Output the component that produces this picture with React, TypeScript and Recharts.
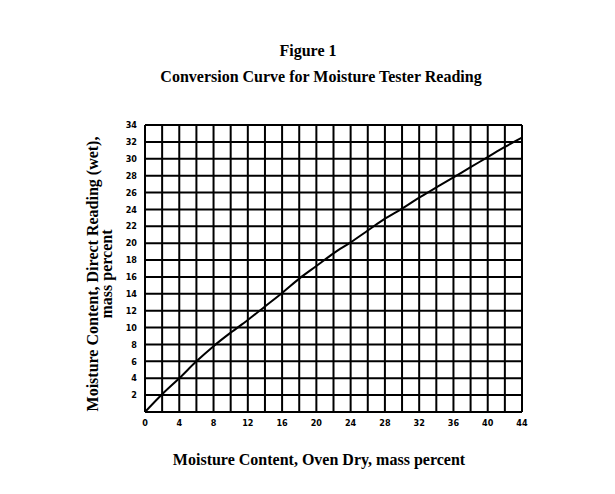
import React from "react";
import { LineChart, Line, XAxis, YAxis, CartesianGrid } from "recharts";

// oven-dry moisture (x) vs direct reading (y)
const ovenDry = [0, 2, 4, 6, 8, 10, 12, 14, 16, 18, 20, 22, 24, 26, 28, 30, 32, 34, 36, 38, 40, 42, 44];
const directReading = [
  0, 2.1, 4.0, 6.0, 7.8, 9.4, 10.9, 12.5, 14.1, 15.8, 17.3, 18.8, 20.1, 21.5,
  22.9, 24.1, 25.4, 26.6, 27.8, 29.0, 30.2, 31.4, 32.5,
];

// grid lines every 2 units, labels every 4 on x
const xTicks = [0, 2, 4, 6, 8, 10, 12, 14, 16, 18, 20, 22, 24, 26, 28, 30, 32, 34, 36, 38, 40, 42, 44];
const yTicks = [0, 2, 4, 6, 8, 10, 12, 14, 16, 18, 20, 22, 24, 26, 28, 30, 32, 34];

const chartData = ovenDry.map((x, i) => ({ x, y: directReading[i] }));

const tickStyle = {
  fontFamily: "DejaVu Sans Condensed, DejaVu Sans",
  fontWeight: "bold" as const,
  fontSize: 9,
  fill: "#000",
};

const serif = "Liberation Serif, Times New Roman, serif";

function App() {
  return (
    <div style={{ position: "absolute", left: 0, top: 0, width: 615, height: 494, background: "#fff" }}>
      <LineChart
        width={615}
        height={494}
        data={chartData}
        margin={{ top: 125, right: 93, bottom: 62, left: 125 }}
      >
        <CartesianGrid stroke="#000" strokeWidth={2} strokeOpacity={1} />
        <XAxis
          type="number"
          dataKey="x"
          domain={[0, 44]}
          ticks={xTicks}
          interval={0}
          height={20}
          tickFormatter={(v: number) => (v % 4 === 0 ? String(v) : "")}
          axisLine={false}
          tickLine={false}
          tickMargin={2}
          tick={tickStyle}
        />
        <YAxis
          type="number"
          domain={[0, 34]}
          ticks={yTicks}
          interval={0}
          width={20}
          tickFormatter={(v: number) => (v === 0 ? "" : String(v))}
          axisLine={false}
          tickLine={false}
          tickMargin={2}
          tick={tickStyle}
        />
        <Line
          type="monotone"
          dataKey="y"
          stroke="#000"
          strokeWidth={2}
          dot={false}
          isAnimationActive={false}
        />
      </LineChart>
      <svg
        width={615}
        height={494}
        style={{ position: "absolute", left: 0, top: 0, pointerEvents: "none" }}
      >
        <g fontFamily={serif} fontWeight="bold" fontSize={16} fill="#000" textAnchor="middle">
          <text x={308} y={56}>Figure 1</text>
          <text x={321} y={82}>Conversion Curve for Moisture Tester Reading</text>
          <text x={319} y={465}>Moisture Content, Oven Dry, mass percent</text>
          <text transform="translate(98,274) rotate(-90)">Moisture Content, Direct Reading (wet),</text>
          <text transform="translate(112,274) rotate(-90)">mass percent</text>
        </g>
      </svg>
    </div>
  );
}

export default App;
